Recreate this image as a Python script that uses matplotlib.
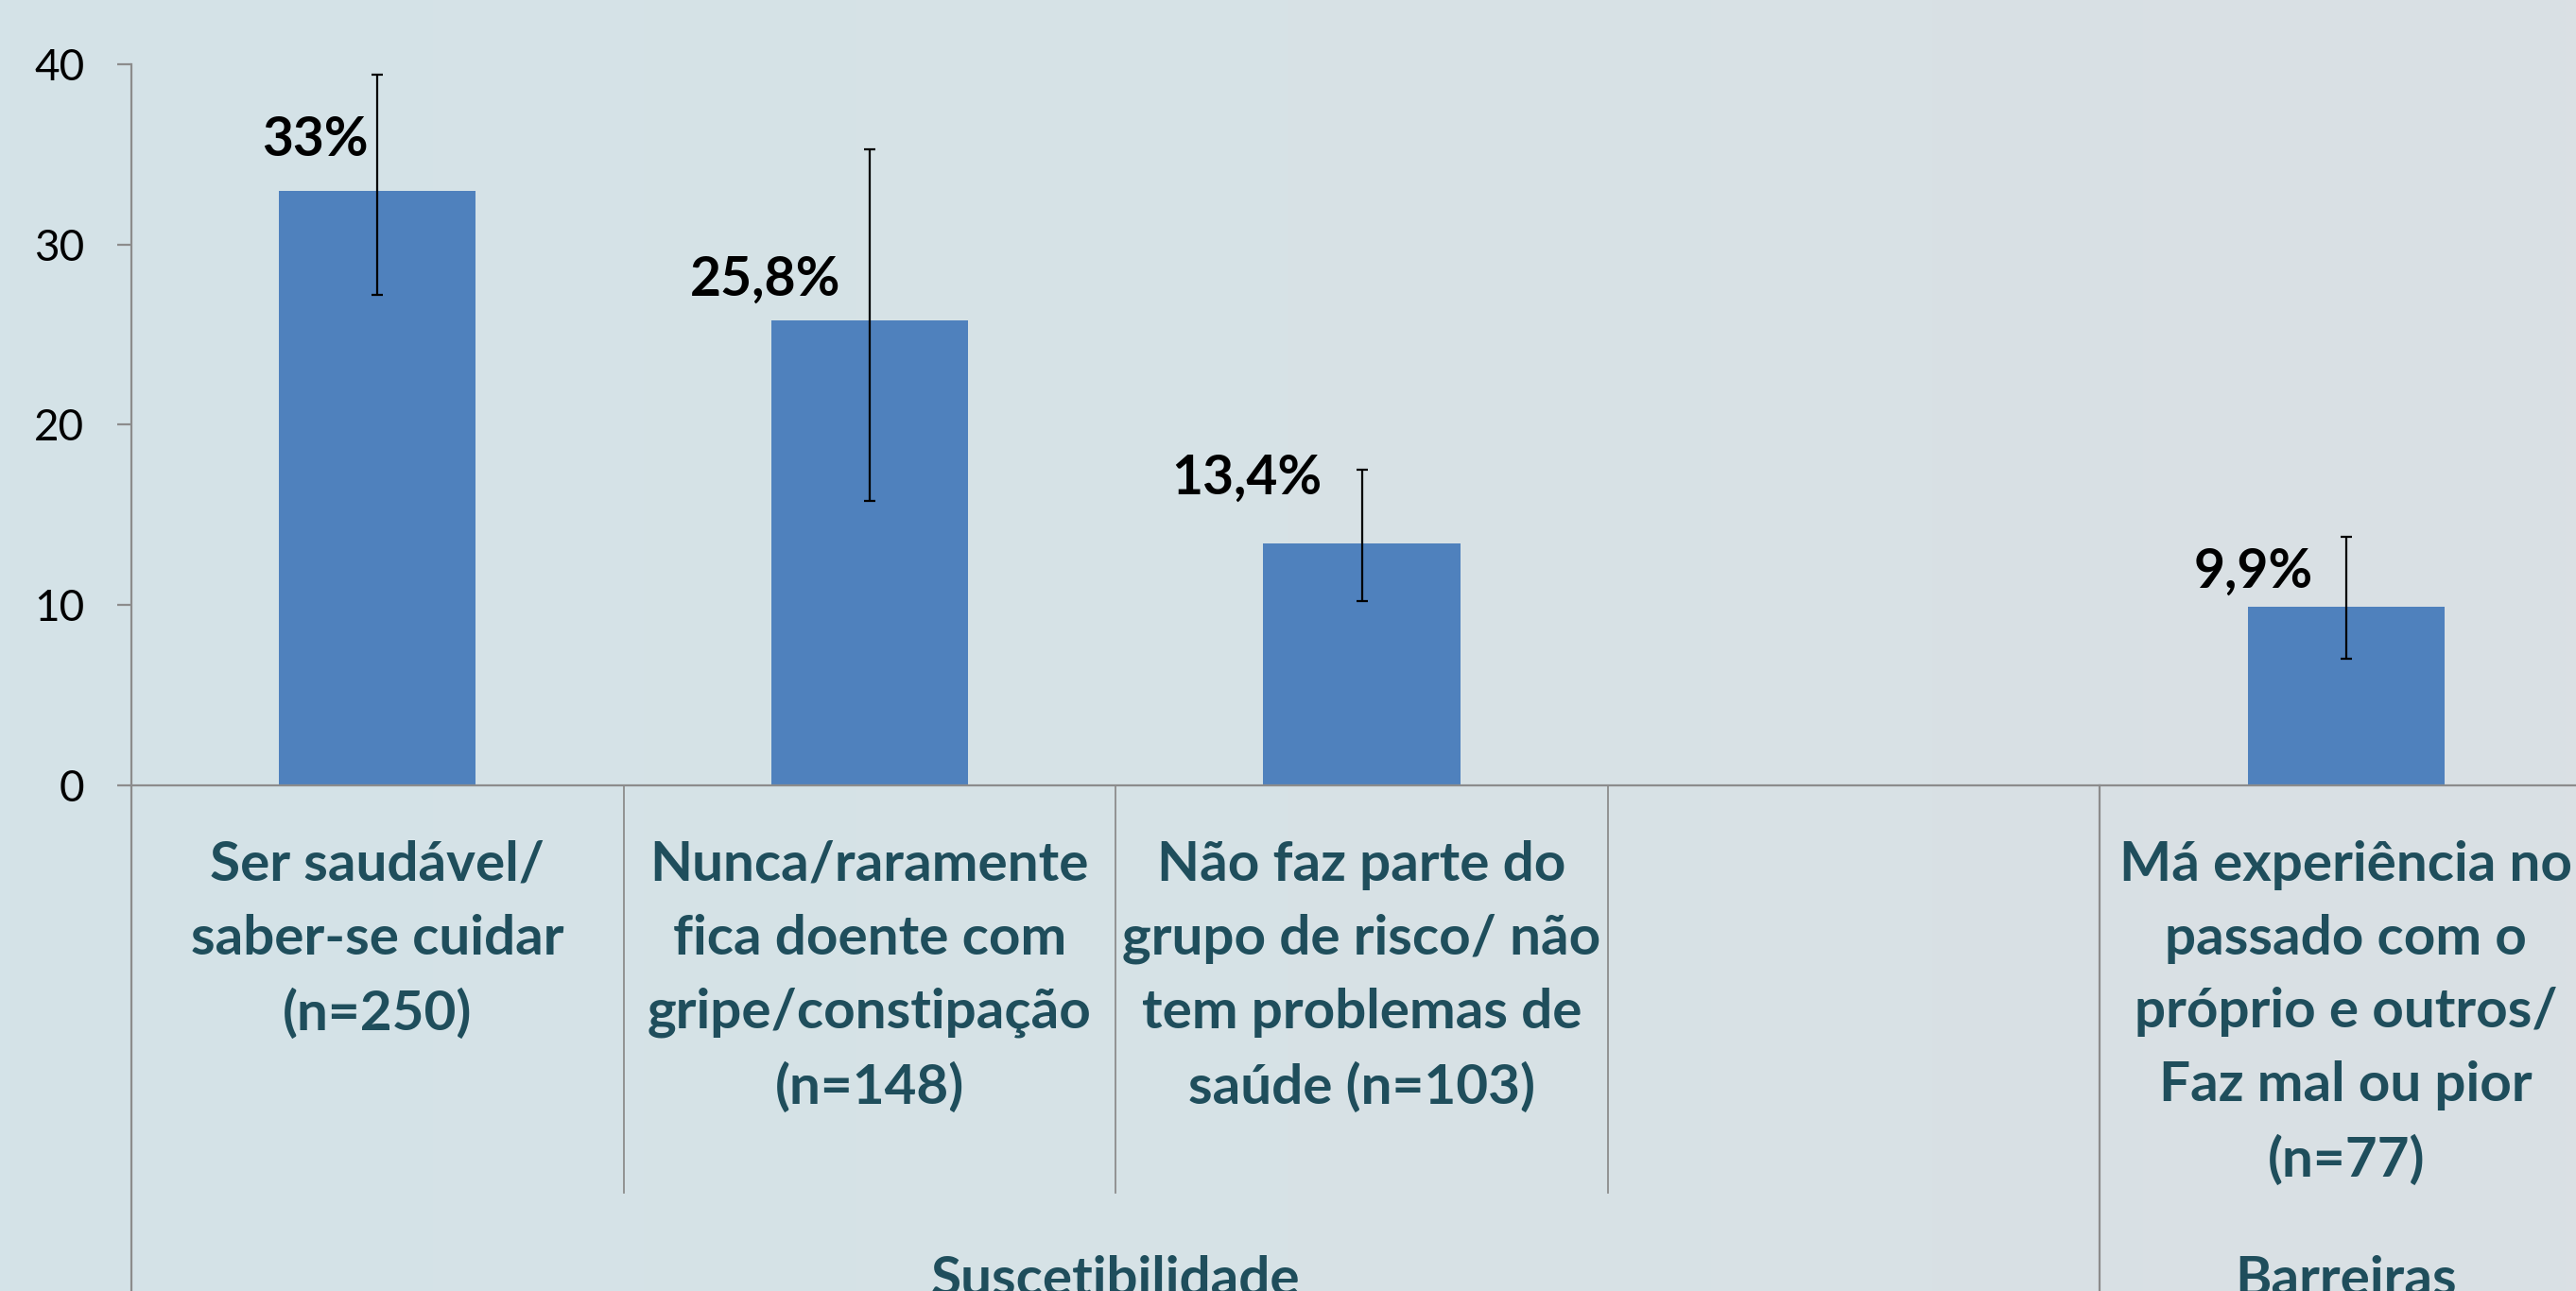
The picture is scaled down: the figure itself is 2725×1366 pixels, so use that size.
import numpy as np
import matplotlib
matplotlib.use("Agg")
import matplotlib.pyplot as plt
from matplotlib.colors import LinearSegmentedColormap

# ---- data ----
categories = [
    "Ser saudável/\nsaber-se cuidar\n(n=250)",
    "Nunca/raramente\nfica doente com\ngripe/constipação\n(n=148)",
    "Não faz parte do\ngrupo de risco/ não\ntem problemas de\nsaúde (n=103)",
    "",
    "Má experiência no\npassado com o\npróprio e outros/\nFaz mal ou pior\n(n=77)",
]
values = [33.0, 25.8, 13.4, np.nan, 9.9]
err_low = [27.2, 15.8, 10.2, np.nan, 7.0]
err_high = [39.4, 35.3, 17.5, np.nan, 13.8]
value_labels = ["33%", "25,8%", "13,4%", "", "9,9%"]
groups = ["Suscetibilidade", "Barreiras"]
group_sizes = [4, 1]
yticks = [0, 10, 20, 30, 40]

# ---- layout/style (not data) ----
label_dx = [-0.127, -0.211, -0.233, 0, -0.189]
label_dy = [1.91, 1.36, 2.75, 0, 1.06]

FONT = "Lato"
bar_color = "#4F81BD"
cat_color = "#1F4E5C"
axis_color = "#8C8C8C"

W, H = 2725, 1366
fig = plt.figure(figsize=(W / 100, H / 100), dpi=100)

# gradient background
bg = fig.add_axes([0, 0, 1, 1])
bg.set_axis_off()
cmap = LinearSegmentedColormap.from_list(
    "bg", [(212/255, 227/255, 232/255), (215/255, 226/255, 230/255), (218/255, 224/255, 228/255)])
bg.imshow(np.linspace(0, 1, 256)[None, :], aspect="auto", cmap=cmap, extent=[0, 1, 0, 1])
bg.set_xlim(0, 1); bg.set_ylim(0, 1)

left = 139 / W
right = 2742 / W
bottom = 1 - 831 / H
top = 1 - 68 / H
ax = fig.add_axes([left, bottom, right - left, top - bottom])
ax.patch.set_alpha(0)

n = len(categories)
x = np.arange(1, n + 1)
vals = np.array(values, dtype=float)
lo = vals - np.array(err_low, dtype=float)
hi = np.array(err_high, dtype=float) - vals
mask = ~np.isnan(vals)

ax.bar(x[mask], vals[mask], width=0.4, color=bar_color, zorder=2)
ax.errorbar(x[mask], vals[mask], yerr=[lo[mask], hi[mask]], fmt="none",
            ecolor="black", elinewidth=1.6, capsize=4.3, capthick=1.6, zorder=3)

for i in range(n):
    if value_labels[i]:
        ax.text(x[i] + label_dx[i], vals[i] + label_dy[i], value_labels[i],
                ha="center", va="baseline", fontsize=41, fontweight="bold",
                family=FONT, color="black", zorder=4)

ax.set_xlim(0.5, n + 0.5)
ax.set_ylim(0, 40)
ax.set_yticks(yticks)
ax.set_yticklabels([str(t) for t in yticks], family=FONT, fontsize=33)
ax.set_xticks([])
for s in ["top", "right"]:
    ax.spines[s].set_visible(False)
ax.spines["left"].set_color(axis_color)
ax.spines["bottom"].set_color(axis_color)
ax.spines["left"].set_linewidth(1.6)
ax.spines["bottom"].set_linewidth(1.6)
ax.tick_params(axis="y", colors=axis_color, length=10.8, width=1.6, pad=25, labelcolor="black")

trans = ax.get_xaxis_transform()
# left axis extension down
ax.plot([0.5, 0.5], [0, -0.75], transform=trans, color=axis_color, lw=1.6, clip_on=False)
# category separators
for i in range(1, n):
    ax.plot([i + 0.5, i + 0.5], [0, -0.565], transform=trans, color=axis_color, lw=1.3, clip_on=False)
# group separators + group labels
pos = 0.5
for g, sz in zip(groups, group_sizes):
    center = pos + sz / 2
    ax.text(center, -0.708, g, transform=trans, ha="center", va="baseline",
            fontsize=42, fontweight="bold", family=FONT, color=cat_color)
    pos += sz
    if pos < n + 0.5:
        ax.plot([pos, pos], [0, -0.75], transform=trans, color=axis_color, lw=1.6, clip_on=False)

# category labels
for i in range(n):
    if categories[i]:
        ax.text(x[i], -0.076, categories[i], transform=trans, ha="center", va="top",
                fontsize=42, fontweight="bold", family=FONT, color=cat_color,
                linespacing=1.575)

fig.savefig("out.png", dpi=100)
